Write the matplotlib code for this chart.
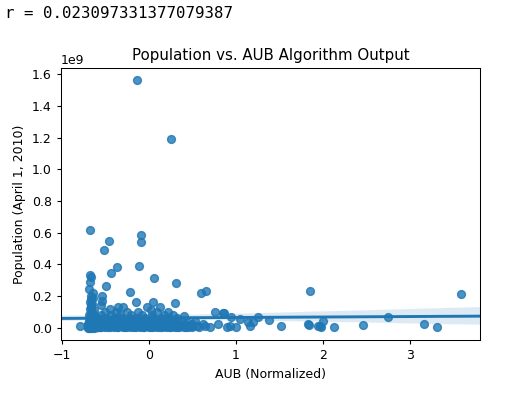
import numpy as np
import pandas as pd
import matplotlib
matplotlib.use("Agg")
import matplotlib.pyplot as plt
import seaborn as sns

# outliers / scattered points (population in 1e9)
x_out = [-0.13, 0.26, -0.68, -0.46, -0.51, -0.09, -0.09, -0.36, -0.44, -0.11,
         0.06, 0.31, -0.22, 0.60, 0.66, -0.49, -0.68, -0.66, -0.68, -0.69,
         -0.64, -0.54, -0.54, -0.15, 0.05, -0.02, 0.30, 0.13, -0.35, 0.76,
         0.85, 0.41, -0.79, 1.85, 3.59, 1.84, 1.95, 1.98, 2.00, 2.13,
         2.46, 2.75, 3.17, 3.32, 1.52, 1.26, 1.38, 1.20, 1.16, 1.05,
         0.95, 0.87, 0.53, 0.62, 0.80, 0.93, 1.00, 1.14, 1.83, 1.97]
y_out = [1.561, 1.190, 0.614, 0.550, 0.490, 0.584, 0.540, 0.384, 0.346, 0.390,
         0.315, 0.283, 0.228, 0.217, 0.234, 0.266, 0.330, 0.320, 0.287, 0.245,
         0.220, 0.200, 0.170, 0.160, 0.160, 0.133, 0.156, 0.133, 0.128, 0.097,
         0.093, 0.072, 0.013, 0.234, 0.211, 0.019, 0.010, 0.002, 0.044, 0.002,
         0.015, 0.068, 0.021, 0.006, 0.013, 0.065, 0.050, 0.038, 0.013, 0.055,
         0.065, 0.093, 0.044, 0.023, 0.023, 0.013, 0.002, 0.034, 0.023, 0.013]

# dense column near x = -0.67
x_col = [-0.69, -0.68, -0.67, -0.66, -0.65, -0.64, -0.63, -0.69, -0.67, -0.65,
         -0.63, -0.68, -0.66, -0.64, -0.69, -0.67, -0.65, -0.68, -0.66, -0.64,
         -0.62, -0.69, -0.67, -0.65, -0.63, -0.68, -0.66, -0.67, -0.65, -0.68,
         -0.66, -0.64, -0.67, -0.69, -0.66, -0.63, -0.68, -0.65, -0.62, -0.67]
y_col = [0.000, 0.003, 0.006, 0.002, 0.010, 0.004, 0.008, 0.015, 0.020, 0.025,
         0.018, 0.030, 0.035, 0.040, 0.045, 0.050, 0.055, 0.060, 0.065, 0.070,
         0.075, 0.080, 0.090, 0.100, 0.110, 0.120, 0.130, 0.140, 0.150, 0.160,
         0.180, 0.190, 0.200, 0.001, 0.005, 0.002, 0.012, 0.007, 0.003, 0.009]

# bottom of the column, where the markers pile up
x_base = [-0.70, -0.69, -0.68, -0.67, -0.66, -0.65, -0.64, -0.63, -0.62, -0.61,
          -0.70, -0.68, -0.66, -0.64, -0.62, -0.60, -0.69, -0.67, -0.65, -0.63,
          -0.61, -0.59, -0.70, -0.68, -0.66, -0.64, -0.62, -0.69, -0.67, -0.65,
          -0.63, -0.61, -0.58, -0.56, -0.70, -0.69, -0.68, -0.67, -0.66, -0.65,
          -0.64, -0.63, -0.62, -0.61, -0.60, -0.69, -0.67, -0.65, -0.63, -0.68,
          -0.66, -0.64, -0.62, -0.59, -0.57, -0.70, -0.68, -0.66, -0.64, -0.62,
          -0.69, -0.67, -0.65, -0.63, -0.61, -0.68, -0.66, -0.64, -0.60, -0.58,
          -0.70, -0.69, -0.67, -0.65, -0.63, -0.68, -0.66, -0.64, -0.62, -0.60,
          -0.69, -0.67, -0.65, -0.63, -0.68, -0.66, -0.64, -0.62, -0.67, -0.65]
y_base = [0.000, 0.001, 0.002, 0.000, 0.003, 0.001, 0.002, 0.000, 0.004, 0.001,
          0.006, 0.005, 0.007, 0.006, 0.008, 0.005, 0.010, 0.009, 0.011, 0.010,
          0.012, 0.008, 0.014, 0.013, 0.015, 0.014, 0.016, 0.018, 0.017, 0.019,
          0.018, 0.020, 0.012, 0.006, 0.022, 0.021, 0.023, 0.022, 0.024, 0.021,
          0.025, 0.023, 0.026, 0.024, 0.020, 0.028, 0.027, 0.029, 0.028, 0.030,
          0.031, 0.029, 0.032, 0.015, 0.010, 0.003, 0.004, 0.002, 0.003, 0.001,
          0.007, 0.006, 0.008, 0.005, 0.007, 0.011, 0.012, 0.010, 0.009, 0.004,
          0.016, 0.015, 0.013, 0.017, 0.014, 0.019, 0.020, 0.018, 0.021, 0.017,
          0.024, 0.025, 0.023, 0.026, 0.033, 0.035, 0.034, 0.036, 0.038, 0.040]

# main cluster, row by row
x_r0 = [-0.60, -0.55, -0.50, -0.45, -0.40, -0.35, -0.30, -0.25, -0.20, -0.15,
        -0.10, -0.05, 0.00, 0.05, 0.10, 0.15, 0.20, 0.25, 0.30, 0.35,
        0.40, 0.45, 0.50, -0.57, -0.47, -0.37, -0.27, -0.17, -0.07, 0.03,
        0.13, 0.23, 0.33, 0.43, 0.58, 0.70, 0.90]
y_r0 = [0.002] * len(x_r0)
x_r1 = [-0.58, -0.52, -0.47, -0.42, -0.37, -0.32, -0.27, -0.22, -0.17, -0.12,
        -0.07, -0.02, 0.03, 0.08, 0.13, 0.18, 0.23, 0.28, 0.33, 0.38,
        0.43, 0.48, 0.55, -0.61, -0.44, -0.34, -0.19, -0.04, 0.11, 0.26,
        0.41, 0.65]
y_r1 = [0.010] * len(x_r1)
x_r2 = [-0.60, -0.54, -0.48, -0.42, -0.36, -0.30, -0.24, -0.18, -0.12, -0.06,
        0.00, 0.06, 0.12, 0.18, 0.24, 0.30, 0.36, 0.42, 0.50, -0.51,
        -0.33, -0.15, 0.09, 0.27]
y_r2 = [0.022] * len(x_r2)
x_r3 = [-0.57, -0.50, -0.43, -0.36, -0.29, -0.22, -0.15, -0.08, -0.01, 0.06,
        0.13, 0.20, 0.27, 0.34, 0.44]
y_r3 = [0.038] * len(x_r3)
x_r4 = [-0.58, -0.49, -0.40, -0.31, -0.22, -0.13, -0.04, 0.05, 0.14, 0.23, 0.32]
y_r4 = [0.058] * len(x_r4)
x_r5 = [-0.55, -0.44, -0.33, -0.20, -0.08, 0.04, 0.18, 0.28]
y_r5 = [0.078] * len(x_r5)
x_r6 = [-0.50, -0.38, -0.25, -0.12, 0.10, 0.22, -0.45, -0.30, 0.02, -0.55]
y_r6 = [0.100, 0.100, 0.100, 0.100, 0.100, 0.100, 0.120, 0.130, 0.110, 0.140]

aub = x_out + x_col + x_base + x_r0 + x_r1 + x_r2 + x_r3 + x_r4 + x_r5 + x_r6
pop = y_out + y_col + y_base + y_r0 + y_r1 + y_r2 + y_r3 + y_r4 + y_r5 + y_r6
df = pd.DataFrame({"AUB": aub, "Population": np.array(pop) * 1e9})

r = 0.023097331377079387

# original was a notebook figure shown at ~90 dpi, so shrink fonts a bit
plt.rcParams.update({
    "font.size": 9,
    "axes.titlesize": 10.8,
    "axes.labelsize": 9,
    "xtick.labelsize": 9,
    "ytick.labelsize": 9,
    "xtick.major.size": 3.2,
    "ytick.major.size": 3.2,
    "axes.linewidth": 0.75,
    "lines.linewidth": 1.4,
})

fig = plt.figure(figsize=(5.06, 3.95), dpi=100)
fig.text(0.01, 0.965, "r = " + str(r), family="DejaVu Sans Mono", fontsize=11.3,
         va="center", ha="left")
ax = fig.add_axes([0.1206, 0.1392, 0.828, 0.6886])
sns.regplot(data=df, x="AUB", y="Population", ax=ax, truncate=False, seed=0,
            color="#1f77b4", scatter_kws={"s": 32})
ax.set_title("Population vs. AUB Algorithm Output")
ax.set_xlabel("AUB (Normalized)")
ax.set_ylabel("Population (April 1, 2010)")

fig.savefig("out.png", dpi=100)
